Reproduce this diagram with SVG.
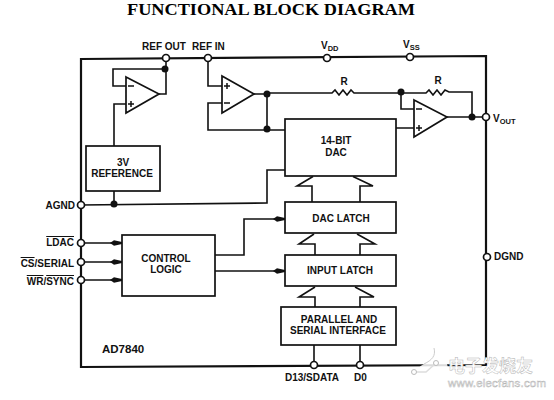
<svg xmlns="http://www.w3.org/2000/svg" width="554" height="400" viewBox="0 0 554 400">
<style>
text{font-family:"Liberation Sans",Arial,sans-serif;font-weight:bold;font-size:10px;fill:#111}
.c{text-anchor:middle}
.e{text-anchor:end}
.sub{font-size:7.5px}
.o{text-decoration:overline}
.t{font-family:"Liberation Serif","Times New Roman",serif;font-size:16.5px;fill:#000}
.box,.tri{fill:#fff;stroke:#111;stroke-width:1.7}
.w{fill:none;stroke:#111;stroke-width:1.6;stroke-linejoin:miter}
.bus{fill:#fff;stroke:#111;stroke-width:1.6}
.dot{fill:#111}
.pin{fill:#fff;stroke:#111;stroke-width:1.7}
.sign{fill:none;stroke:#111;stroke-width:1.5}
.wm{font-family:"Noto Sans CJK SC","Liberation Sans",sans-serif;fill:#fff;stroke:#b5b5b5;stroke-width:.5}
</style>
<defs>
<marker id="arr" viewBox="0 0 12 8" refX="12" refY="4" markerWidth="12" markerHeight="8" markerUnits="userSpaceOnUse" orient="auto"><path d="M0 4L4 1.2L12 3V5L4 6.8Z" fill="#111"/></marker>
</defs>
<text id="title" class="t c" x="271" y="15" textLength="288" lengthAdjust="spacingAndGlyphs">FUNCTIONAL BLOCK DIAGRAM</text>
<g id="connectors">
<path class="w" style="stroke-width:2.2" d="M81 59L486 56V365L81 367Z"/>
<path class="w" d="M166 58V94H159M166 69H113V86H126M126 104H114V146M114 191V204"/>
<path class="w" d="M81 205L267 203V170H285"/>
<path class="w" d="M208 58V86H222M222 103H208V130H285M254 94H267V130"/>
<path class="w" d="M267 93H332L335 90L339 95L343 90L347 95L351 90L354 93H401H426L429 90L433 95L437 90L441 95L445 90L449 92H472V117"/>
<path class="w" d="M401 92V109H414M396 128H414M447 117H486"/>
<path class="w" marker-end="url(#arr)" d="M81 243H122"/>
<path class="w" marker-end="url(#arr)" d="M81 262H122"/>
<path class="w" marker-end="url(#arr)" d="M81 280H122"/>
<path class="w" marker-end="url(#arr)" d="M215 255H244V219H285"/>
<path class="w" marker-end="url(#arr)" d="M215 271H285"/>
<path class="w" d="M314 345V365M360 345V365"/>
<path class="bus" d="M312 202V186H297L313 176.5M353 176.5L373 186H360V202"/>
<path class="bus" d="M315 255V244H299L314 234M357 234L375 244H360V255"/>
<path class="bus" d="M315 307V297H299L315 287M355 287L374 297H360V307"/>
<circle class="dot" cx="165" cy="69" r="3.5"/>
<circle class="dot" cx="114" cy="204" r="3.5"/>
<circle class="dot" cx="267" cy="94" r="3.5"/>
<circle class="dot" cx="267" cy="129" r="3.5"/>
<circle class="dot" cx="401" cy="92" r="3.5"/>
<circle class="dot" cx="472" cy="117" r="3.5"/>
<text x="344" y="85" class="c">R</text>
<text x="438" y="84" class="c">R</text>
</g>
<g id="amp1"><path class="tri" d="M126 77L159 94L126 113Z"/><path class="sign" d="M128 86H134M128 104H134M131 101V107"/></g>
<g id="amp2"><path class="tri" d="M222 76L254 94L222 113Z"/><path class="sign" d="M224 86H230M227 83V89M224 103H230"/></g>
<g id="amp3"><path class="tri" d="M414 100L447 117L414 137Z"/><path class="sign" d="M416 109H422M416 128H422M419 125V131"/></g>
<g id="ref3v"><rect class="box" x="86" y="146" width="74" height="45"/><text class="c" x="123" y="166">3V</text><text class="c" x="122" y="177">REFERENCE</text></g>
<g id="dac"><rect class="box" x="285" y="119" width="111" height="57"/><text class="c" x="336" y="144">14-BIT</text><text class="c" x="336" y="156">DAC</text></g>
<g id="daclatch"><rect class="box" x="285" y="202" width="111" height="31"/><text class="c" x="341" y="222">DAC LATCH</text></g>
<g id="inputlatch"><rect class="box" x="285" y="255" width="111" height="31"/><text class="c" x="340" y="274">INPUT LATCH</text></g>
<g id="interface"><rect class="box" x="281" y="307" width="115" height="38"/><text class="c" x="339" y="323">PARALLEL AND</text><text class="c" x="338" y="334">SERIAL INTERFACE</text></g>
<g id="control"><rect class="box" x="122" y="235" width="93" height="61"/><text class="c" x="166" y="262">CONTROL</text><text class="c" x="166" y="273">LOGIC</text></g>
<g id="pin-refout"><circle class="pin" cx="166" cy="58" r="3.5"/><text x="142" y="50">REF OUT</text></g>
<g id="pin-refin"><circle class="pin" cx="208" cy="58" r="3.5"/><text x="192" y="50">REF IN</text></g>
<g id="pin-vdd"><circle class="pin" cx="327" cy="58" r="3.5"/><text x="321" y="49">V<tspan class="sub" dy="2">DD</tspan></text></g>
<g id="pin-vss"><circle class="pin" cx="410" cy="57" r="3.5"/><text x="403" y="48">V<tspan class="sub" dy="2">SS</tspan></text></g>
<g id="pin-vout"><circle class="pin" cx="486" cy="117" r="3.5"/><text x="493" y="122">V<tspan class="sub" dy="2">OUT</tspan></text></g>
<g id="pin-dgnd"><circle class="pin" cx="487" cy="257" r="3.5"/><text x="494" y="260">DGND</text></g>
<g id="pin-agnd"><circle class="pin" cx="81" cy="205" r="3.5"/><text class="e" x="75" y="209">AGND</text></g>
<g id="pin-ldac"><circle class="pin" cx="81" cy="243" r="3.5"/><text class="e" x="74" y="246"><tspan class="o">LDAC</tspan></text></g>
<g id="pin-cs"><circle class="pin" cx="81" cy="262" r="3.5"/><text class="e" x="74" y="267"><tspan class="o">CS</tspan>/SERIAL</text></g>
<g id="pin-wr"><circle class="pin" cx="81" cy="280" r="3.5"/><text class="e" x="74" y="285"><tspan class="o">WR</tspan>/<tspan class="o">SYNC</tspan></text></g>
<g id="pin-d13"><circle class="pin" cx="314" cy="365" r="3.5"/><text x="285" y="381">D13/SDATA</text></g>
<g id="pin-d0"><circle class="pin" cx="360" cy="365" r="3.5"/><text x="354" y="381">D0</text></g>
<text id="part" style="font-size:11.5px" x="102" y="353">AD7840</text>
<g id="watermark">
<path d="M434 348C436 356 432 360 424 364C414 369 412 378 420 384C430 391 446 385 448 372C449 362 442 354 434 348Z" fill="#fff" fill-opacity=".85"/>
<path d="M434 348C436 356 432 360 424 364" fill="none" stroke="#ccc" stroke-width="1"/>
<path d="M415 372L426 372L435 364" fill="none" stroke="#ddd" stroke-width="1.5"/>
<circle cx="414" cy="372" r="2.5" fill="#fff" stroke="#bbb"/><circle cx="436" cy="363" r="2.5" fill="#fff" stroke="#bbb"/>
<text class="wm" x="448" y="372" style="font-size:17px">电子发烧友</text>
<text class="wm" x="448" y="387" style="font-size:11.5px;font-family:'Liberation Sans',sans-serif;font-weight:normal" textLength="98">www.elecfans.com</text>
</g>
</svg>
